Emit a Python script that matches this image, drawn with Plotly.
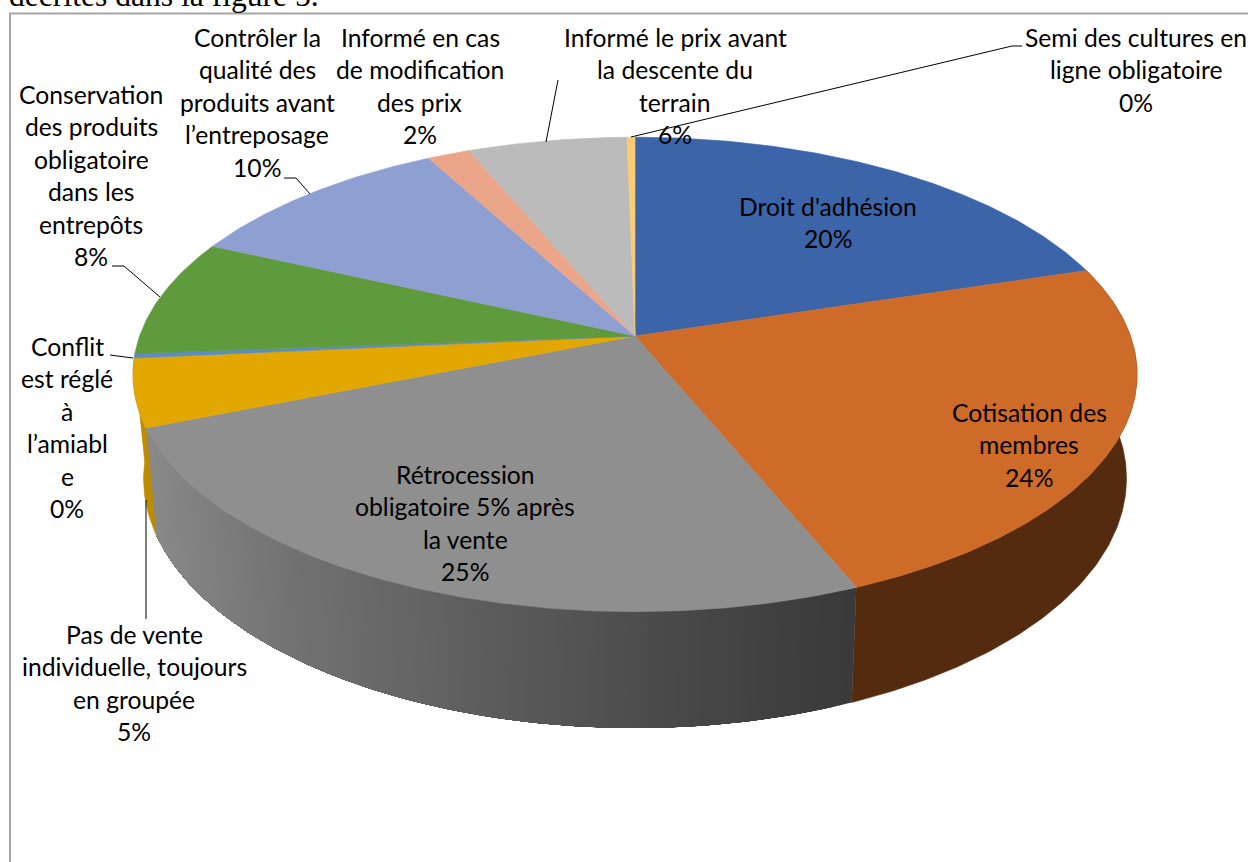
import math
import plotly.graph_objects as go

# Share of each answer, clockwise from twelve o'clock
categories = [
    "Droit d'adhésion",
    "Cotisation des membres",
    "Rétrocession obligatoire 5% après la vente",
    "Pas de vente individuelle, toujours en groupée",
    "Conflit est réglé à l’amiable",
    "Conservation des produits obligatoire dans les entrepôts",
    "Contrôler la qualité des produits avant l’entreposage",
    "Informé en cas de modification des prix",
    "Informé le prix avant la descente du terrain",
    "Semi des cultures en ligne obligatoire",
]
values = [20.2, 23.6, 25.1, 4.6, 0.3, 8.0, 10.3, 1.6, 6.0, 0.3]

top_colors = ["#3B64A9", "#CF6B29", "#8F8F8F", "#E2A700", "#5B8CC4",
              "#5F9A3C", "#8E9FD1", "#EBA68A", "#BBBBBB", "#FBCB75"]
# Walls of the slices facing the viewer; None marks the shaded grey wall
wall_colors = {1: "#542B0F", 2: None, 3: "#BE8C00"}

# Wrapped label text, line by line; the percentage line is appended from the values
label_lines = [
    ["Droit d'adhésion"],
    ["Cotisation des", "membres"],
    ["Rétrocession", "obligatoire 5% après", "la vente"],
    ["Pas de vente", "individuelle, toujours", "en groupée"],
    ["Conflit", "est réglé", "à", "l’amiabl", "e"],
    ["Conservation", "des produits", "obligatoire", "dans les", "entrepôts"],
    ["Contrôler la", "qualité des", "produits avant", "l’entreposage"],
    ["Informé en cas", "de modification", "des prix"],
    ["Informé le prix avant", "la descente du", "terrain"],
    ["Semi des cultures en", "ligne obligatoire"],
]

WIDTH, HEIGHT = 1248, 862
FONT = "Lato"
FONT_SIZE = 24.7
LINE_PITCH = 32.5

# Perspective pie: top and bottom rims share a centre column
CX = 635
TOP_RIM = dict(rx=495.4, ry=231.0, cy=336.0)
BOTTOM_RIM = dict(rx=485.0, ry=243.0, cy=438.0)
PERSPECTIVE = 0.162

label_anchor = [(828, 206), (1029, 412), (465, 474), (134, 634), (67, 346),
                (91, 94), (257, 37), (420, 37), (675, 37), (1136, 37)]

leader_paths = [
    [(631, 137), (1012, 46), (1022, 46)],
    [(546, 142), (558, 80)],
    [(284, 178), (296, 178), (310, 194)],
    [(112, 266), (124, 266), (160, 297)],
    [(110, 355), (133, 358)],
    [(146, 500), (146, 619)],
]


def rim_point(rim, turn):
    """Project a fraction of a clockwise turn onto a rim."""
    a = 2 * math.pi * turn
    depth = 1 + PERSPECTIVE * math.cos(a)
    return (CX + rim["rx"] * math.sin(a) / depth,
            rim["cy"] - rim["ry"] * math.cos(a) / depth)


def arc(rim, start, end, step=0.002):
    n = max(2, int(abs(end - start) / step) + 1)
    return [rim_point(rim, start + (end - start) * i / n) for i in range(n + 1)]


def polygon(points, color, edge=0.6):
    return go.Scatter(
        x=[p[0] for p in points] + [points[0][0]],
        y=[p[1] for p in points] + [points[0][1]],
        mode="lines", fill="toself", fillcolor=color,
        line=dict(color=color, width=edge), hoverinfo="skip", showlegend=False,
    )


def grey_wall_color(x):
    """Horizontal shading of the large grey wall."""
    stops = [(150, 0x8A), (300, 0x72), (500, 0x5C), (700, 0x47), (860, 0x39)]
    for (x0, v0), (x1, v1) in zip(stops, stops[1:]):
        if x <= x1:
            v = round(v0 + (v1 - v0) * max(0, x - x0) / (x1 - x0))
            return f"rgb({v},{v},{v})"
    return f"rgb({stops[-1][1]},{stops[-1][1]},{stops[-1][1]})"


total = sum(values)
edges = [0.0]
for v in values:
    edges.append(edges[-1] + v / total)

fig = go.Figure()

# Outer wall, only for the slices that face the viewer
for i, color in wall_colors.items():
    start, end = edges[i], edges[i + 1]
    if color is not None:
        fig.add_trace(polygon(arc(TOP_RIM, start, end) + arc(BOTTOM_RIM, end, start), color))
        continue
    # Overlapping bands avoid seams: each one reaches the far end of the slice
    bands = 90
    for k in range(bands):
        a0 = start + (end - start) * k / bands
        pts = arc(TOP_RIM, a0, end) + arc(BOTTOM_RIM, end, a0)
        fig.add_trace(polygon(pts, grey_wall_color(rim_point(BOTTOM_RIM, a0)[0]), edge=0))

# Top faces
for i, (start, end) in enumerate(zip(edges, edges[1:])):
    pts = [(CX, TOP_RIM["cy"])] + arc(TOP_RIM, start, end)
    fig.add_trace(polygon(pts, top_colors[i]))

# Leader lines from outside labels to their slices
for path in leader_paths:
    fig.add_trace(go.Scatter(
        x=[p[0] for p in path], y=[p[1] for p in path], mode="lines",
        line=dict(color="#000000", width=1), hoverinfo="skip", showlegend=False,
    ))

# Chart frame: top and left edges stay visible on the page
fig.add_trace(go.Scatter(
    x=[10, 10, WIDTH], y=[HEIGHT, 13.5, 13.5], mode="lines",
    line=dict(color="#A6A6A6", width=2), hoverinfo="skip", showlegend=False,
))

annotations = []
for lines, value, (ax, ay) in zip(label_lines, values, label_anchor):
    rows = lines + [f"{round(value / total * 100)}%"]
    for r, row in enumerate(rows):
        annotations.append(dict(
            x=ax, y=ay + r * LINE_PITCH, xref="x", yref="y", text=row,
            showarrow=False, xanchor="center", yanchor="middle",
            font=dict(family=FONT, size=FONT_SIZE, color="#000000"),
        ))

# Last line of the running text above the chart
annotations.append(dict(
    x=0, y=1, xref="paper", yref="paper", text="décrites dans la figure 5.",
    showarrow=False, xanchor="left", yanchor="middle", xshift=7, yshift=4.5,
    font=dict(family="Liberation Serif", size=31.6, color="#000000"),
))

fig.update_layout(
    width=WIDTH, height=HEIGHT, autosize=False,
    margin=dict(l=0, r=0, t=0, b=0),
    paper_bgcolor="#FFFFFF", plot_bgcolor="#FFFFFF",
    xaxis=dict(range=[0, WIDTH], visible=False, fixedrange=True),
    yaxis=dict(range=[HEIGHT, 0], visible=False, fixedrange=True),
    annotations=annotations,
    showlegend=False,
)

fig.write_html("out.html", config=dict(displayModeBar=False))
